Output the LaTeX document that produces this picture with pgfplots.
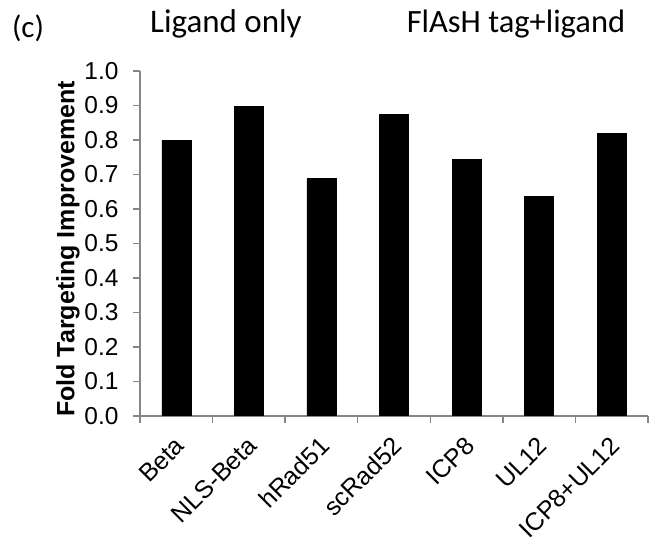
\documentclass[border=0pt]{standalone}
\usepackage{fontspec}
\setmainfont{Liberation Sans}
\newfontfamily\calibri{Carlito}
\usepackage{pgfplots}
\pgfplotsset{compat=1.18}
\definecolor{axisgray}{RGB}{134,134,134}

\begin{document}
\begin{tikzpicture}[x=1pt,y=1pt]
\begin{axis}[
  name=ax, at={(0,0)}, anchor=south west,
  scale only axis, width=508pt, height=345pt,
  xmin=-0.5, xmax=6.5, ymin=0, ymax=1,
  axis x line*=bottom, axis y line*=left,
  axis line style={-, draw=axisgray, line width=1.3pt},
  tick align=outside,
  major tick length=7pt, minor tick length=7pt,
  ytick={0,0.1,0.2,0.3,0.4,0.5,0.6,0.7,0.8,0.9,1.0},
  ytick style={draw=axisgray, line width=1.3pt},
  yticklabel style={/pgf/number format/fixed, /pgf/number format/fixed zerofill,
    /pgf/number format/precision=1, font=\fontsize{24.5}{24.5}\selectfont, xshift=-11pt},
  /pgf/number format/assume math mode=true,
  xtick={0,1,2,3,4,5,6},
  xticklabels={Beta, NLS-Beta, hRad51, scRad52, ICP8, UL12, ICP8+UL12},
  xtick style={draw=none},
  minor xtick={-0.5,0.5,1.5,2.5,3.5,4.5,5.5,6.5},
  every minor x tick/.style={draw=axisgray, line width=1.3pt},
  xticklabel style={xshift=6pt, yshift=-16pt, rotate=45, anchor=east,
    font=\fontsize{25}{25}\selectfont},
  ybar, bar width=29pt,
]
\addplot[fill=black, draw=black] coordinates {
  (0,0.798) (1,0.897) (2,0.688) (3,0.875) (4,0.743) (5,0.637) (6,0.820)
};
\end{axis}
\node[rotate=90, font=\bfseries\fontsize{25}{25}\selectfont]
  at ([shift={(-72pt,167pt)}]ax.south west) {Fold Targeting Improvement};
\node[anchor=base, font=\calibri\fontsize{31}{31}\selectfont]
  at ([shift={(-112pt,378pt)}]ax.south west) {(c)};
\node[anchor=base, font=\calibri\fontsize{33}{33}\selectfont]
  at ([shift={(86pt,383pt)}]ax.south west) {Ligand only};
\node[anchor=base, font=\calibri\fontsize{32.5}{32.5}\selectfont]
  at ([shift={(376pt,383pt)}]ax.south west) {FlAsH tag+ligand};
\pgfresetboundingbox
\path[use as bounding box] ([shift={(-140pt,416pt)}]ax.south west) rectangle ([shift={(513pt,-121pt)}]ax.south west);
\end{tikzpicture}
\end{document}
